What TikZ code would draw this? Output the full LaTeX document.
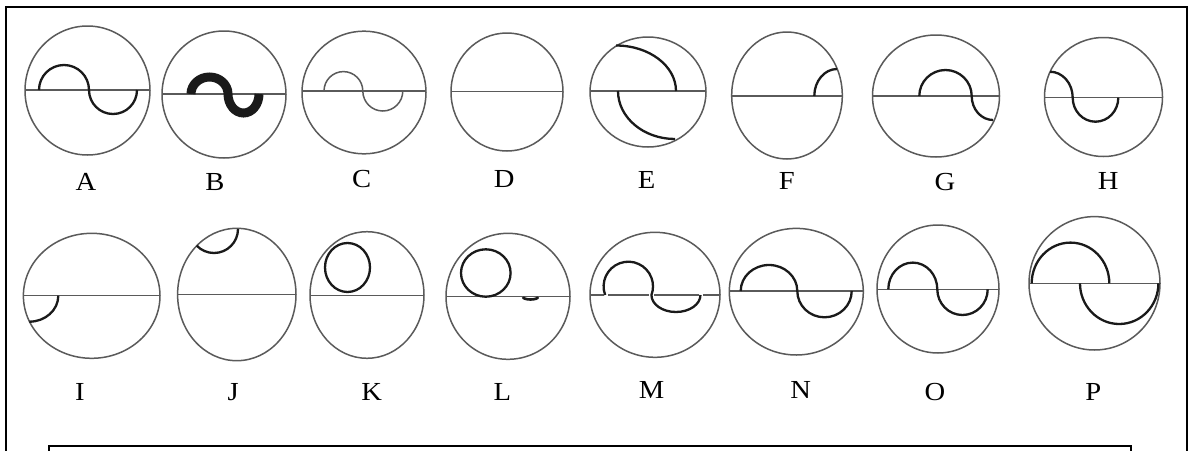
\documentclass[tikz,border=0pt]{standalone}
\usepackage{fontspec}
\setmainfont{Liberation Serif}
\definecolor{ringgray}{HTML}{5A5A5A}
\definecolor{curvek}{HTML}{1A1A1A}
\begin{document}
\begin{tikzpicture}[x=1pt,y=1pt,
  ring/.style={draw=ringgray,line width=1.5pt},
  curve/.style={draw=curvek,line width=2.3pt},
  thickcurve/.style={draw=curvek,line width=9pt},
  frame/.style={draw=black,line width=2.2pt},
  innerframe/.style={draw=black,line width=1.6pt},
  lab/.style={font=\fontsize{26}{30}\selectfont,inner sep=0pt,xscale=1.1}]
\useasboundingbox (0,0) rectangle (1189,-450);
\fill[white] (0,0) rectangle (1189,-450);
% frames
\coordinate (fbl) at (6,-455);
\coordinate (ftl) at (6,-7);
\coordinate (ftr) at (1187,-7);
\coordinate (fbr) at (1187,-455);
\draw[frame] (fbl) -- (ftl) -- (ftr) -- (fbr);
\coordinate (ibl) at (49,-455);
\coordinate (itl) at (49,-446);
\coordinate (itr) at (1131,-446);
\coordinate (ibr) at (1131,-455);
\draw[innerframe] (ibl) -- (itl) -- (itr) -- (ibr);
% ---------- row 1 ----------
% A
\draw[ring] (87.5,-90.5) ellipse[x radius=62.5pt,y radius=64.5pt];
\draw[ring] (25,-90) -- (150,-90);
\draw[curve] (39,-90) arc[start angle=180,end angle=0,radius=25pt]
                      arc[start angle=180,end angle=360,radius=24pt];
\node[lab] (lA) at (86,-182) {A};
% B
\draw[ring] (224,-94.5) ellipse[x radius=62pt,y radius=63.5pt];
\draw[ring] (162,-94) -- (286,-94);
\draw[thickcurve] (191,-94) arc[start angle=180,end angle=0,x radius=18.5pt,y radius=17pt]
                            arc[start angle=180,end angle=360,x radius=15.5pt,y radius=19pt];
\node[lab] (lB) at (215,-182) {B};
% C
\draw[ring] (364,-92.5) ellipse[x radius=62pt,y radius=61.3pt];
\draw[ring] (302,-91) -- (426,-91);
\draw[ring] (324,-91) arc[start angle=180,end angle=0,radius=19.4pt]
                      arc[start angle=180,end angle=360,radius=20pt];
\node[lab] (lC) at (361.7,-179) {C};
% D
\draw[ring] (507,-92) ellipse[x radius=56pt,y radius=59pt];
\draw[ring] (451,-91.7) -- (563,-91.7);
\node[lab] (lD) at (504.3,-179) {D};
% E
\draw[ring] (648,-92) ellipse[x radius=58pt,y radius=55pt];
\draw[ring] (590,-91) -- (706,-91);
\draw[curve] (616,-45.5) arc[start angle=90,end angle=0,x radius=60pt,y radius=45.5pt];
\draw[curve] (618,-91) arc[start angle=180,end angle=270,x radius=57pt,y radius=48pt];
\node[lab] (lE) at (646.7,-180) {E};
% F
\draw[ring] (787,-95.5) ellipse[x radius=55.3pt,y radius=63.5pt];
\draw[ring] (731.7,-96) -- (842.3,-96);
\draw[curve] (814.3,-96) arc[start angle=180,end angle=90,x radius=22.7pt,y radius=27pt];
\node[lab] (lF) at (786.7,-181) {F};
% G
\draw[ring] (936,-96) ellipse[x radius=63.5pt,y radius=61pt];
\draw[ring] (872.5,-96) -- (999.5,-96);
\draw[curve] (919.3,-96) arc[start angle=180,end angle=0,x radius=26.2pt,y radius=26pt]
                         arc[start angle=180,end angle=270,x radius=21.3pt,y radius=24pt];
\node[lab] (lG) at (945,-182) {G};
% H
\draw[ring] (1103.5,-97) ellipse[x radius=59pt,y radius=59.5pt];
\draw[ring] (1044.5,-97.7) -- (1162.5,-97.7);
\draw[curve] (1050,-71.7) arc[start angle=90,end angle=0,x radius=22.7pt,y radius=26pt]
                          arc[start angle=180,end angle=360,x radius=22.8pt,y radius=24pt];
\node[lab] (lH) at (1108.3,-181) {H};
% ---------- row 2 ----------
% I
\draw[ring] (91.7,-295.8) ellipse[x radius=68.3pt,y radius=62.5pt];
\draw[ring] (23.4,-295.7) -- (160,-295.7);
\draw[curve] (58.3,-295.7) arc[start angle=0,end angle=-90,x radius=29pt,y radius=26pt];
\node[lab] (lI) at (80,-392) {I};
% J
\draw[ring] (236.8,-294.5) ellipse[x radius=59.2pt,y radius=66.2pt];
\draw[ring] (177.6,-294.3) -- (296,-294.3);
\draw[curve] (238,-229) arc[start angle=0,end angle=-136,radius=24pt];
\node[lab] (lJ) at (233.3,-392) {J};
% K
\draw[ring] (367,-295) ellipse[x radius=57pt,y radius=63.3pt];
\draw[ring] (310,-295.7) -- (424,-295.7);
\draw[curve] (347.5,-267.5) ellipse[x radius=22.5pt,y radius=24.5pt];
\node[lab] (lK) at (371.7,-392) {K};
% L
\draw[ring] (508,-296.3) ellipse[x radius=62pt,y radius=63pt];
\draw[ring] (446,-296.7) -- (570,-296.7);
\draw[curve] (485.8,-273) ellipse[x radius=24.8pt,y radius=23.7pt];
\draw[curve,line width=2.6pt] (523,-297) arc[start angle=180,end angle=360,x radius=7.5pt,y radius=2.5pt];
\node[lab] (lL) at (502.3,-392) {L};
% M
\draw[ring] (655,-294.8) ellipse[x radius=65pt,y radius=62.5pt];
\draw[ring] (590,-295) -- (603.5,-295);
\draw[ring] (608,-295) -- (649,-295);
\draw[ring] (654,-295) -- (698.5,-295);
\draw[ring] (703,-295) -- (720,-295);
\draw[curve] (605.15,-295) arc[start angle=200.4,end angle=-20.4,radius=24.7pt]
                           arc[start angle=180,end angle=360,x radius=24.5pt,y radius=17pt];
\node[lab] (lM) at (651.7,-390) {M};
% N
\draw[ring] (796.3,-291.7) ellipse[x radius=67pt,y radius=63.3pt];
\draw[ring] (729.3,-291) -- (863.3,-291);
\draw[curve] (740.7,-291) arc[start angle=180,end angle=0,x radius=28.3pt,y radius=26pt]
                          arc[start angle=180,end angle=360,x radius=27.2pt,y radius=26.3pt];
\node[lab] (lN) at (800.7,-390) {N};
% O
\draw[ring] (938,-289) ellipse[x radius=61pt,y radius=64pt];
\draw[ring] (877,-289.3) -- (999,-289.3);
\draw[curve] (888.3,-289.3) arc[start angle=180,end angle=0,x radius=24.5pt,y radius=26.7pt]
                            arc[start angle=180,end angle=360,x radius=25.2pt,y radius=25.7pt];
\node[lab] (lO) at (935,-392) {O};
% P
\draw[ring] (1094.5,-283.3) ellipse[x radius=65.5pt,y radius=66.7pt];
\draw[ring] (1029,-283.3) -- (1160,-283.3);
\draw[curve] (1031.7,-283.3) arc[start angle=180,end angle=0,x radius=38.8pt,y radius=40.7pt];
\draw[curve] (1080,-283.3) arc[start angle=180,end angle=360,x radius=39.2pt,y radius=40.7pt];
\node[lab] (lP) at (1093.3,-392) {P};
\end{tikzpicture}
\end{document}
